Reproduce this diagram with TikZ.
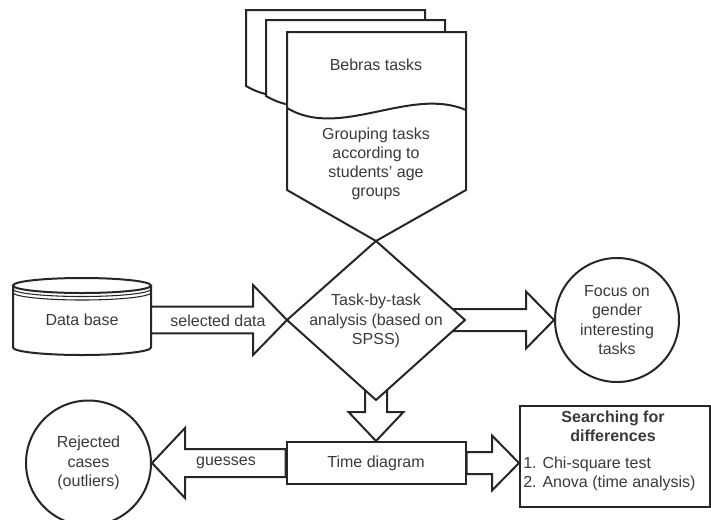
\documentclass[tikz,border=0pt]{standalone}
\usepackage{fontspec}
\setmainfont{Liberation Sans}
\usetikzlibrary{calc}
\definecolor{ink}{HTML}{262626}
\definecolor{txt}{HTML}{3A3A3A}

% block arrow: from, to, shaft half-width, head half-width, head length
\newcommand\blockarrow[5]{%
  \path ($(#2)!#5!(#1)$) coordinate (bh);
  \draw[blockline] ($(#1)!#3!90:(#2)$) -- ($(bh)!#3!90:(#2)$) -- ($(bh)!#4!90:(#2)$)
    -- (#2) -- ($(bh)!#4!-90:(#2)$) -- ($(bh)!#3!-90:(#2)$) -- ($(#1)!#3!-90:(#2)$) -- cycle;}

\tikzset{
  outline/.style={draw=ink, line width=1.5pt, fill=white, line join=miter},
  blockline/.style={outline},
  lbl/.style={text=txt, font=\fontsize{12}{14.4}\selectfont, align=center, inner sep=0pt},
  roundbox/.style={outline, circle, minimum size=#1, inner sep=0pt, text=txt,
    font=\fontsize{12}{14.4}\selectfont, align=center},
  squarebox/.style={outline, rectangle, inner sep=0pt, text=txt,
    font=\fontsize{12}{14.4}\selectfont, align=center},
}

\begin{document}
\begin{tikzpicture}[x=0.75pt, y=-0.75pt]
\useasboundingbox (0,0) rectangle (711,519);

% stacked task sheets
\foreach \dx/\dy in {-41/-22, -21/-12}{
  \draw[outline, shift={(\dx,\dy)}] (287,32) -- (466,32) -- (466,110)
    .. controls (410,86) and (340,140) .. (287,108) -- cycle;
}
\draw[outline] (287,32) -- (466,32) -- (466,190) -- (376,241) coordinate (penTip)
  -- (287,190) -- cycle;
\draw[outline, fill=none] (466,110) .. controls (410,86) and (340,140) .. (287,108);
\node[lbl] (bebras) at (376,65) {Bebras tasks};
\node[lbl] (grouping) at (376,164) {Grouping tasks\\according to\\students{\char"0027} age\\groups};

% data store
\draw[outline] (13,285.5) -- (13,347.5) arc[start angle=180, end angle=0, x radius=69, y radius=7.5]
  -- (151,285.5);
\draw[outline] (82,285.5) ellipse[x radius=69, y radius=7.5];
\draw[draw=ink, line width=0.8pt] (13,289) arc[start angle=180, end angle=0, x radius=69, y radius=7.5];
\draw[draw=ink, line width=0.8pt] (13,292.5) arc[start angle=180, end angle=0, x radius=69, y radius=7.5];
\node[lbl] (db) at (82,320) {Data base};
\coordinate (dbE) at (151,320);

% analysis decision
\coordinate (dia) at (376,320);
\coordinate (diaN) at (376,241);
\coordinate (diaS) at (376,400);
\coordinate (diaW) at (287,320);
\coordinate (diaE) at (465,320);

% target shapes
\node[roundbox=93pt] (focus) at (617,320) {Focus on\\gender\\interesting\\tasks};
\node[roundbox=93.75pt] (rej) at (88.5,463) {Rejected\\cases\\(outliers)};
\node[squarebox, minimum width=134.25pt, minimum height=31.5pt] (time) at (376,463) {Time diagram};
\node[squarebox, minimum width=142.5pt, minimum height=75.75pt] (search) at (615,456.5) {};
\node[lbl, font=\fontsize{12}{14.4}\selectfont\bfseries] (searchTitle) at (613,426) {Searching for\\differences};
\node[lbl, align=left, anchor=west] (searchList) at (523,474) {1. Chi-square test\\2. Anova (time analysis)};

% block arrows
\blockarrow{dbE}{diaW}{10.1pt}{26.25pt}{25.5pt}
\blockarrow{dia}{focus.west}{8.25pt}{21.4pt}{21pt}
\blockarrow{dia}{time.north}{8.25pt}{20.6pt}{21.75pt}
\blockarrow{time.west}{rej.east}{10.5pt}{26.25pt}{24.75pt}
\blockarrow{time.east}{search.west |- time.east}{8.25pt}{20.6pt}{20.25pt}

\draw[outline] (diaN) -- (diaE) -- (diaS) -- (diaW) -- cycle;
\node[lbl] (analysis) at (376,321) {Task-by-task\\analysis (based on\\SPSS)};

\node[lbl] (selLbl) at (218,321) {selected data};
\node[lbl] (guessLbl) at (226,463) {guesses};
\end{tikzpicture}
\end{document}
